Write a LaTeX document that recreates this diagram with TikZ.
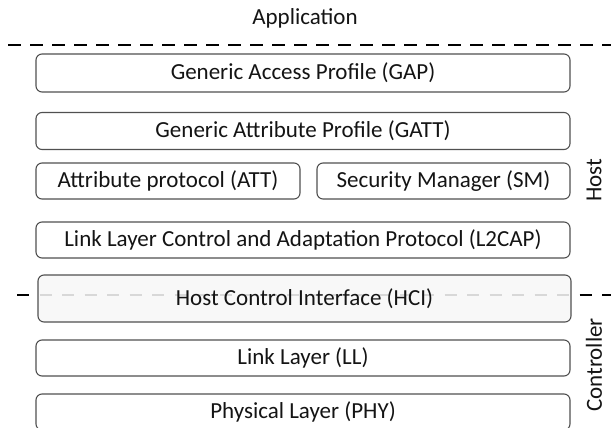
\documentclass[tikz,border=0pt]{standalone}
\usepackage{fontspec}
\setmainfont{Carlito}
\usepackage{tikz}
\usetikzlibrary{positioning}

\definecolor{layerline}{HTML}{505050}
\definecolor{layertext}{HTML}{141414}

\tikzset{
  layer/.style={draw=layerline,line width=1.1pt,rounded corners=6pt,
    fill=white,text=layertext,inner sep=0pt,font=\fontsize{23}{26}\selectfont},
  sidelabel/.style={text=layertext,font=\fontsize{23}{26}\selectfont},
  splitline/.style={line width=2.8pt,dash pattern=on 13pt off 9pt}
}

\begin{document}
\begin{tikzpicture}[x=1pt,y=-1pt]
\useasboundingbox (0,0) rectangle (611,428);
\node[sidelabel] (app) at (305,18) {Application};
\coordinate (topL) at (8,45);
\coordinate (topR) at (611,45);
\draw[splitline] (topL) -- (topR);
\node[layer,minimum width=534pt,minimum height=38pt] (gap) at (303,73) {Generic Access Profile (GAP)};
\node[layer,minimum width=534pt,minimum height=37pt] (gatt) at (303,131) {Generic Attribute Profile (GATT)};
\node[layer,minimum width=264pt,minimum height=36pt] (att) at (168,181) {Attribute protocol (ATT)};
\node[layer,minimum width=253pt,minimum height=36pt] (sm) at (443.5,181) {Security Manager (SM)};
\node[layer,minimum width=534pt,minimum height=36pt] (l2cap) at (303,240) {Link Layer Control and Adaptation Protocol (L2CAP)};
\coordinate (hciL) at (17,295);
\coordinate (hciR) at (611,295);
\draw[splitline,dash pattern=on 12pt off 10.5pt] (hciL) -- (hciR);
\node[layer,fill=black!3,fill opacity=0.88,text opacity=1,minimum width=533pt,minimum height=47pt] (hci) at (304.5,298.5) {Host Control Interface (HCI)};
\node[layer,minimum width=534pt,minimum height=36pt] (ll) at (303,358) {Link Layer (LL)};
\node[layer,minimum width=534pt,minimum height=36pt] (phy) at (303,412) {Physical Layer (PHY)};
\node[sidelabel,rotate=90] (host) at (594,180) {Host};
\node[sidelabel,rotate=90] (ctrl) at (594,365) {Controller};
\end{tikzpicture}
\end{document}
